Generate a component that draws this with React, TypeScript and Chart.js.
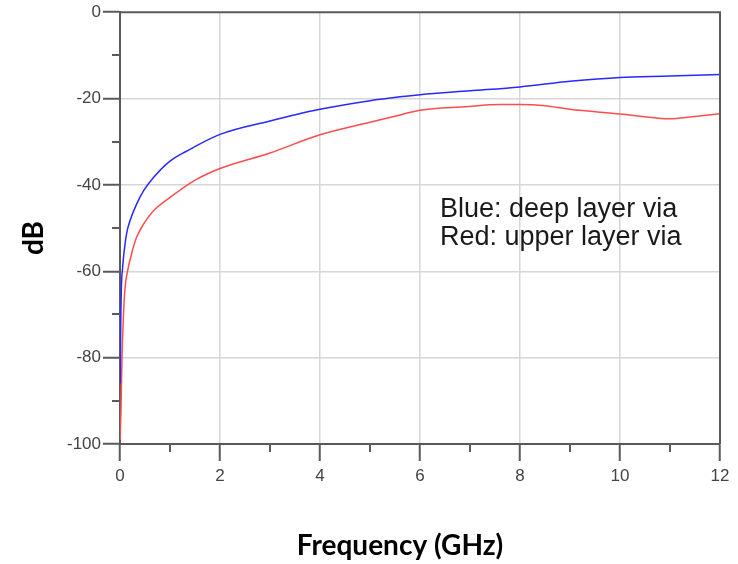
import React, { useEffect, useRef } from "react";
import { Chart, registerables } from "chart.js";

Chart.register(...registerables);

// ---- data ----
const blueFreq = [0.005, 0.015, 0.03, 0.05, 0.07, 0.13, 0.2, 0.33, 0.47, 0.67, 1.0, 1.33, 2, 3, 4, 5, 5.6, 6, 7, 8, 9, 10, 11, 12];
const blueDb = [-86, -72, -63, -59.5, -56.8, -51.4, -48.3, -44.5, -41.4, -38.3, -34.5, -32.2, -28.3, -25.2, -22.5, -20.5, -19.6, -19.1, -18.2, -17.3, -16.0, -15.1, -14.8, -14.4];

const redFreq = [0.003, 0.02, 0.04, 0.07, 0.1, 0.15, 0.23, 0.33, 0.47, 0.67, 1.0, 1.47, 2, 3, 4, 5, 5.6, 6, 6.9, 7.6, 8, 8.45, 9, 10, 10.65, 11, 11.45, 12];
const redDb = [-99, -92, -80, -70, -64, -60, -56, -52.2, -49.1, -46, -42.9, -39.1, -36.2, -32.6, -28.4, -25.5, -23.8, -22.7, -21.9, -21.4, -21.4, -21.6, -22.5, -23.6, -24.4, -24.7, -24.2, -23.5];

const xTitle = "Frequency (GHz)";
const yTitle = "dB";
const noteLines = ["Blue: deep layer via", "Red: upper layer via"];
const noteX = 6.4;
const noteY = [-47.4, -53.8];

const AXIS = "#5a5a5a";
const GRID = "#d6d6d6";
const TICK_FONT = { family: "'Liberation Sans', Arial, sans-serif", size: 17 };
const TITLE_FONT = "bold 28px Lato, sans-serif";

const framePlugin = {
  id: "frame",
  afterDraw(chart: any) {
    const { ctx, chartArea, scales } = chart;
    const xs = scales.x, ys = scales.y;
    ctx.save();
    // top and right border
    ctx.strokeStyle = AXIS;
    ctx.lineWidth = 2;
    ctx.beginPath();
    ctx.moveTo(chartArea.left, chartArea.top);
    ctx.lineTo(chartArea.right, chartArea.top);
    ctx.lineTo(chartArea.right, chartArea.bottom);
    ctx.stroke();
    // minor ticks
    ctx.beginPath();
    for (let v = 1; v < 12; v += 2) {
      const px = Math.round(xs.getPixelForValue(v));
      ctx.moveTo(px, chartArea.bottom);
      ctx.lineTo(px, chartArea.bottom + 8);
    }
    for (let v = -90; v < 0; v += 20) {
      const py = Math.round(ys.getPixelForValue(v));
      ctx.moveTo(chartArea.left, py);
      ctx.lineTo(chartArea.left - 8, py);
    }
    ctx.stroke();
    // axis titles
    ctx.fillStyle = "#000";
    ctx.font = TITLE_FONT;
    ctx.textAlign = "center";
    ctx.textBaseline = "middle";
    ctx.fillText(xTitle, 400, 546);
    ctx.save();
    ctx.translate(34, 238);
    ctx.rotate(-Math.PI / 2);
    ctx.fillText(yTitle, 0, 0);
    ctx.restore();
    // annotation
    ctx.fillStyle = "#1a1a1a";
    ctx.font = "27px 'Liberation Sans', Arial, sans-serif";
    ctx.textBaseline = "alphabetic";
    ctx.textAlign = "left";
    noteLines.forEach((t, i) => {
      ctx.fillText(t, xs.getPixelForValue(noteX), ys.getPixelForValue(noteY[i]));
    });
    ctx.restore();
  },
};

export default function App() {
  const ref = useRef<HTMLCanvasElement>(null);
  useEffect(() => {
    if (!ref.current) return;
    const chart = new Chart(ref.current, {
      type: "line",
      data: {
        datasets: [
          {
            label: "Blue",
            data: blueFreq.map((f, i) => ({ x: f, y: blueDb[i] })),
            borderColor: "#2828ff",
            borderWidth: 1.5,
            pointRadius: 0,
            cubicInterpolationMode: "monotone",
            fill: false,
          },
          {
            label: "Red",
            data: redFreq.map((f, i) => ({ x: f, y: redDb[i] })),
            borderColor: "#ff4d4d",
            borderWidth: 1.5,
            pointRadius: 0,
            cubicInterpolationMode: "monotone",
            fill: false,
          },
        ],
      },
      options: {
        responsive: false,
        animation: false,
        events: [],
        layout: { padding: { left: 0, top: 12, right: 18, bottom: 0 } },
        plugins: { legend: { display: false }, tooltip: { enabled: false } },
        scales: {
          x: {
            type: "linear",
            min: 0,
            max: 12,
            afterFit: (s: any) => { s.height = 120; },
            ticks: {
              stepSize: 1,
              autoSkip: false,
              maxRotation: 0,
              padding: 5,
              color: "#444",
              font: TICK_FONT,
              callback: (v: any) => (Number(v) % 2 === 0 ? String(v) : ""),
            },
            grid: {
              color: (c: any) => {
                const v = c.tick?.value;
                return v !== undefined && v % 2 === 0 && v !== 0 && v !== 12 ? GRID : "rgba(0,0,0,0)";
              },
              tickColor: (c: any) => (c.tick && c.tick.value % 2 === 0 ? AXIS : "rgba(0,0,0,0)"),
              tickLength: 17,
              tickWidth: 2,
              lineWidth: 1.5,
            },
            border: { display: true, color: AXIS, width: 2 },
            title: { display: false },
          },
          y: {
            type: "linear",
            min: -100,
            max: 0,
            afterFit: (s: any) => { s.width = 120; },
            ticks: {
              stepSize: 10,
              autoSkip: false,
              padding: 2,
              color: "#444",
              font: TICK_FONT,
              callback: (v: any) => (Number(v) % 20 === 0 ? String(v) : ""),
            },
            grid: {
              color: (c: any) => {
                const v = c.tick?.value;
                return v !== undefined && v % 20 === 0 && v !== 0 && v !== -100 ? GRID : "rgba(0,0,0,0)";
              },
              tickColor: (c: any) => (c.tick && c.tick.value % 20 === 0 ? AXIS : "rgba(0,0,0,0)"),
              tickLength: 17,
              tickWidth: 2,
              lineWidth: 1.5,
            },
            border: { display: true, color: AXIS, width: 2 },
            title: { display: false },
          },
        },
      },
      plugins: [framePlugin],
    });
    return () => chart.destroy();
  }, []);
  return (
    <div style={{ position: "fixed", left: 0, top: 0, width: 738, height: 564, background: "#fff" }}>
      <canvas ref={ref} width={738} height={564} style={{ display: "block" }} />
    </div>
  );
}
